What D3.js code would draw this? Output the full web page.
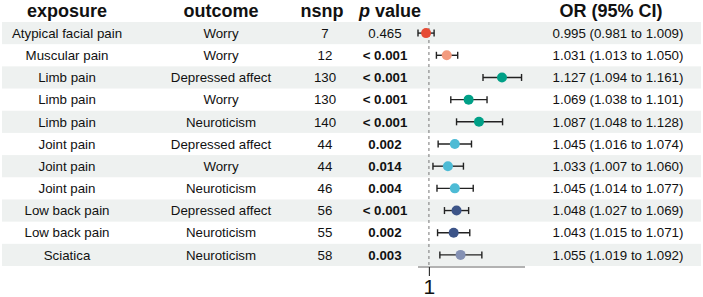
<!DOCTYPE html>
<html>
<head>
<meta charset="utf-8">
<script src="https://cdn.jsdelivr.net/npm/d3@7"></script>
<style>
  body { margin: 0; background: #fff; }
  text { font-family: "Liberation Sans", Arial, sans-serif; fill: #111; }
</style>
</head>
<body>
<div id="chart"></div>
<script>
const exposure = ['Atypical facial pain','Muscular pain','Limb pain','Limb pain','Limb pain','Joint pain','Joint pain','Joint pain','Low back pain','Low back pain','Sciatica'];
const outcome = ['Worry','Worry','Depressed affect','Worry','Neuroticism','Depressed affect','Worry','Neuroticism','Depressed affect','Neuroticism','Neuroticism'];
const nsnp = [7, 12, 130, 130, 140, 44, 44, 46, 56, 55, 58];
const pval = ['0.465','< 0.001','< 0.001','< 0.001','< 0.001','0.002','0.014','0.004','< 0.001','0.002','0.003'];
const or = [0.995, 1.031, 1.127, 1.069, 1.087, 1.045, 1.033, 1.045, 1.048, 1.043, 1.055];
const lo = [0.981, 1.013, 1.094, 1.038, 1.048, 1.016, 1.007, 1.014, 1.027, 1.015, 1.019];
const hi = [1.009, 1.050, 1.161, 1.101, 1.128, 1.074, 1.060, 1.077, 1.069, 1.071, 1.092];
const headers = ['exposure', 'outcome', 'nsnp', 'p value', 'OR (95% CI)'];
const xTicks = [1];

const colorMap = {
  'Atypical facial pain': '#E64B35', 'Muscular pain': '#F39B7F', 'Limb pain': '#00A087',
  'Joint pain': '#4DBBD5', 'Low back pain': '#3C5488', 'Sciatica': '#8491B4'
};

const rows = exposure.map((e, i) => ({
  i, exposure: e, outcome: outcome[i], nsnp: nsnp[i], p: pval[i],
  or: or[i], lo: lo[i], hi: hi[i]
}));

const width = 703, height = 297;
const svg = d3.select('#chart').append('svg').attr('width', width).attr('height', height);

const y = d3.scaleBand().domain(rows.map(d => d.i)).range([22, 266]).padding(0);
const x = d3.scaleLinear().domain([0.981, 1.167]).range([418, 525]);

const col = { exposure: 67, outcome: 221, nsnp: 325, p: 385, or: 618 };

// shaded bands
svg.append('g').selectAll('rect')
  .data(rows.filter(d => d.i % 2 === 0))
  .join('rect')
  .attr('x', 2).attr('width', 699)
  .attr('y', d => y(d.i)).attr('height', y.bandwidth())
  .attr('fill', '#EEF1F0');

// headers
const hdr = svg.append('g').attr('font-weight', 'bold').attr('font-size', 18).attr('text-anchor', 'middle');
hdr.append('text').attr('x', 67).attr('y', 17).text(headers[0]);
hdr.append('text').attr('x', 221).attr('y', 17).text(headers[1]);
hdr.append('text').attr('x', 322).attr('y', 17).text(headers[2]);
const ph = hdr.append('text').attr('x', 390).attr('y', 17);
ph.append('tspan').attr('font-style', 'italic').text('p');
ph.append('tspan').text(headers[3].slice(1));
hdr.append('text').attr('x', 611).attr('y', 17).text(headers[4]);

// table text
const body = svg.append('g').attr('font-size', 13.3).attr('text-anchor', 'middle');
const rowG = body.selectAll('g').data(rows).join('g')
  .attr('transform', d => `translate(0,${y(d.i) + y.bandwidth() / 2 + 4.7})`);
rowG.append('text').attr('x', col.exposure).text(d => d.exposure);
rowG.append('text').attr('x', col.outcome).text(d => d.outcome);
rowG.append('text').attr('x', col.nsnp).text(d => d.nsnp);
rowG.append('text').attr('x', col.p)
  .attr('font-weight', d => d.p.startsWith('<') || +d.p < 0.05 ? 'bold' : 'normal')
  .text(d => d.p);
rowG.append('text').attr('x', col.or)
  .text(d => `${d.or.toFixed(3)} (${d.lo.toFixed(3)} to ${d.hi.toFixed(3)})`);

// reference line
svg.append('line')
  .attr('x1', x(1)).attr('x2', x(1)).attr('y1', 22).attr('y2', 267)
  .attr('stroke', '#777').attr('stroke-width', 1).attr('stroke-dasharray', '3,3');

// error bars and points
const cy = d => y(d.i) + y.bandwidth() / 2;
const eb = svg.append('g').attr('stroke', '#222').attr('stroke-width', 1.4);
eb.selectAll('line.ci').data(rows).join('line')
  .attr('x1', d => x(d.lo)).attr('x2', d => x(d.hi)).attr('y1', cy).attr('y2', cy);
eb.selectAll('line.cl').data(rows).join('line')
  .attr('x1', d => x(d.lo)).attr('x2', d => x(d.lo)).attr('y1', d => cy(d) - 3.5).attr('y2', d => cy(d) + 3.5);
eb.selectAll('line.ch').data(rows).join('line')
  .attr('x1', d => x(d.hi)).attr('x2', d => x(d.hi)).attr('y1', d => cy(d) - 3.5).attr('y2', d => cy(d) + 3.5);
svg.append('g').selectAll('circle').data(rows).join('circle')
  .attr('cx', d => x(d.or)).attr('cy', cy).attr('r', 5)
  .attr('fill', d => colorMap[d.exposure]);

// axis
const axis = svg.append('g').attr('transform', 'translate(0,267)')
  .call(d3.axisBottom(x).tickValues(xTicks).tickFormat(d3.format('d')).tickSize(9).tickPadding(3));
axis.select('.domain').attr('stroke', '#999').attr('stroke-width', 1.5).attr('d', `M${x.range()[0]},0H${x.range()[1]}`);
axis.selectAll('.tick line').attr('stroke', '#333').attr('stroke-width', 1.2);
axis.selectAll('.tick text').attr('font-size', 21).attr('fill', '#111')
  .attr('font-family', '"Liberation Sans", Arial, sans-serif');
</script>
</body>
</html>
